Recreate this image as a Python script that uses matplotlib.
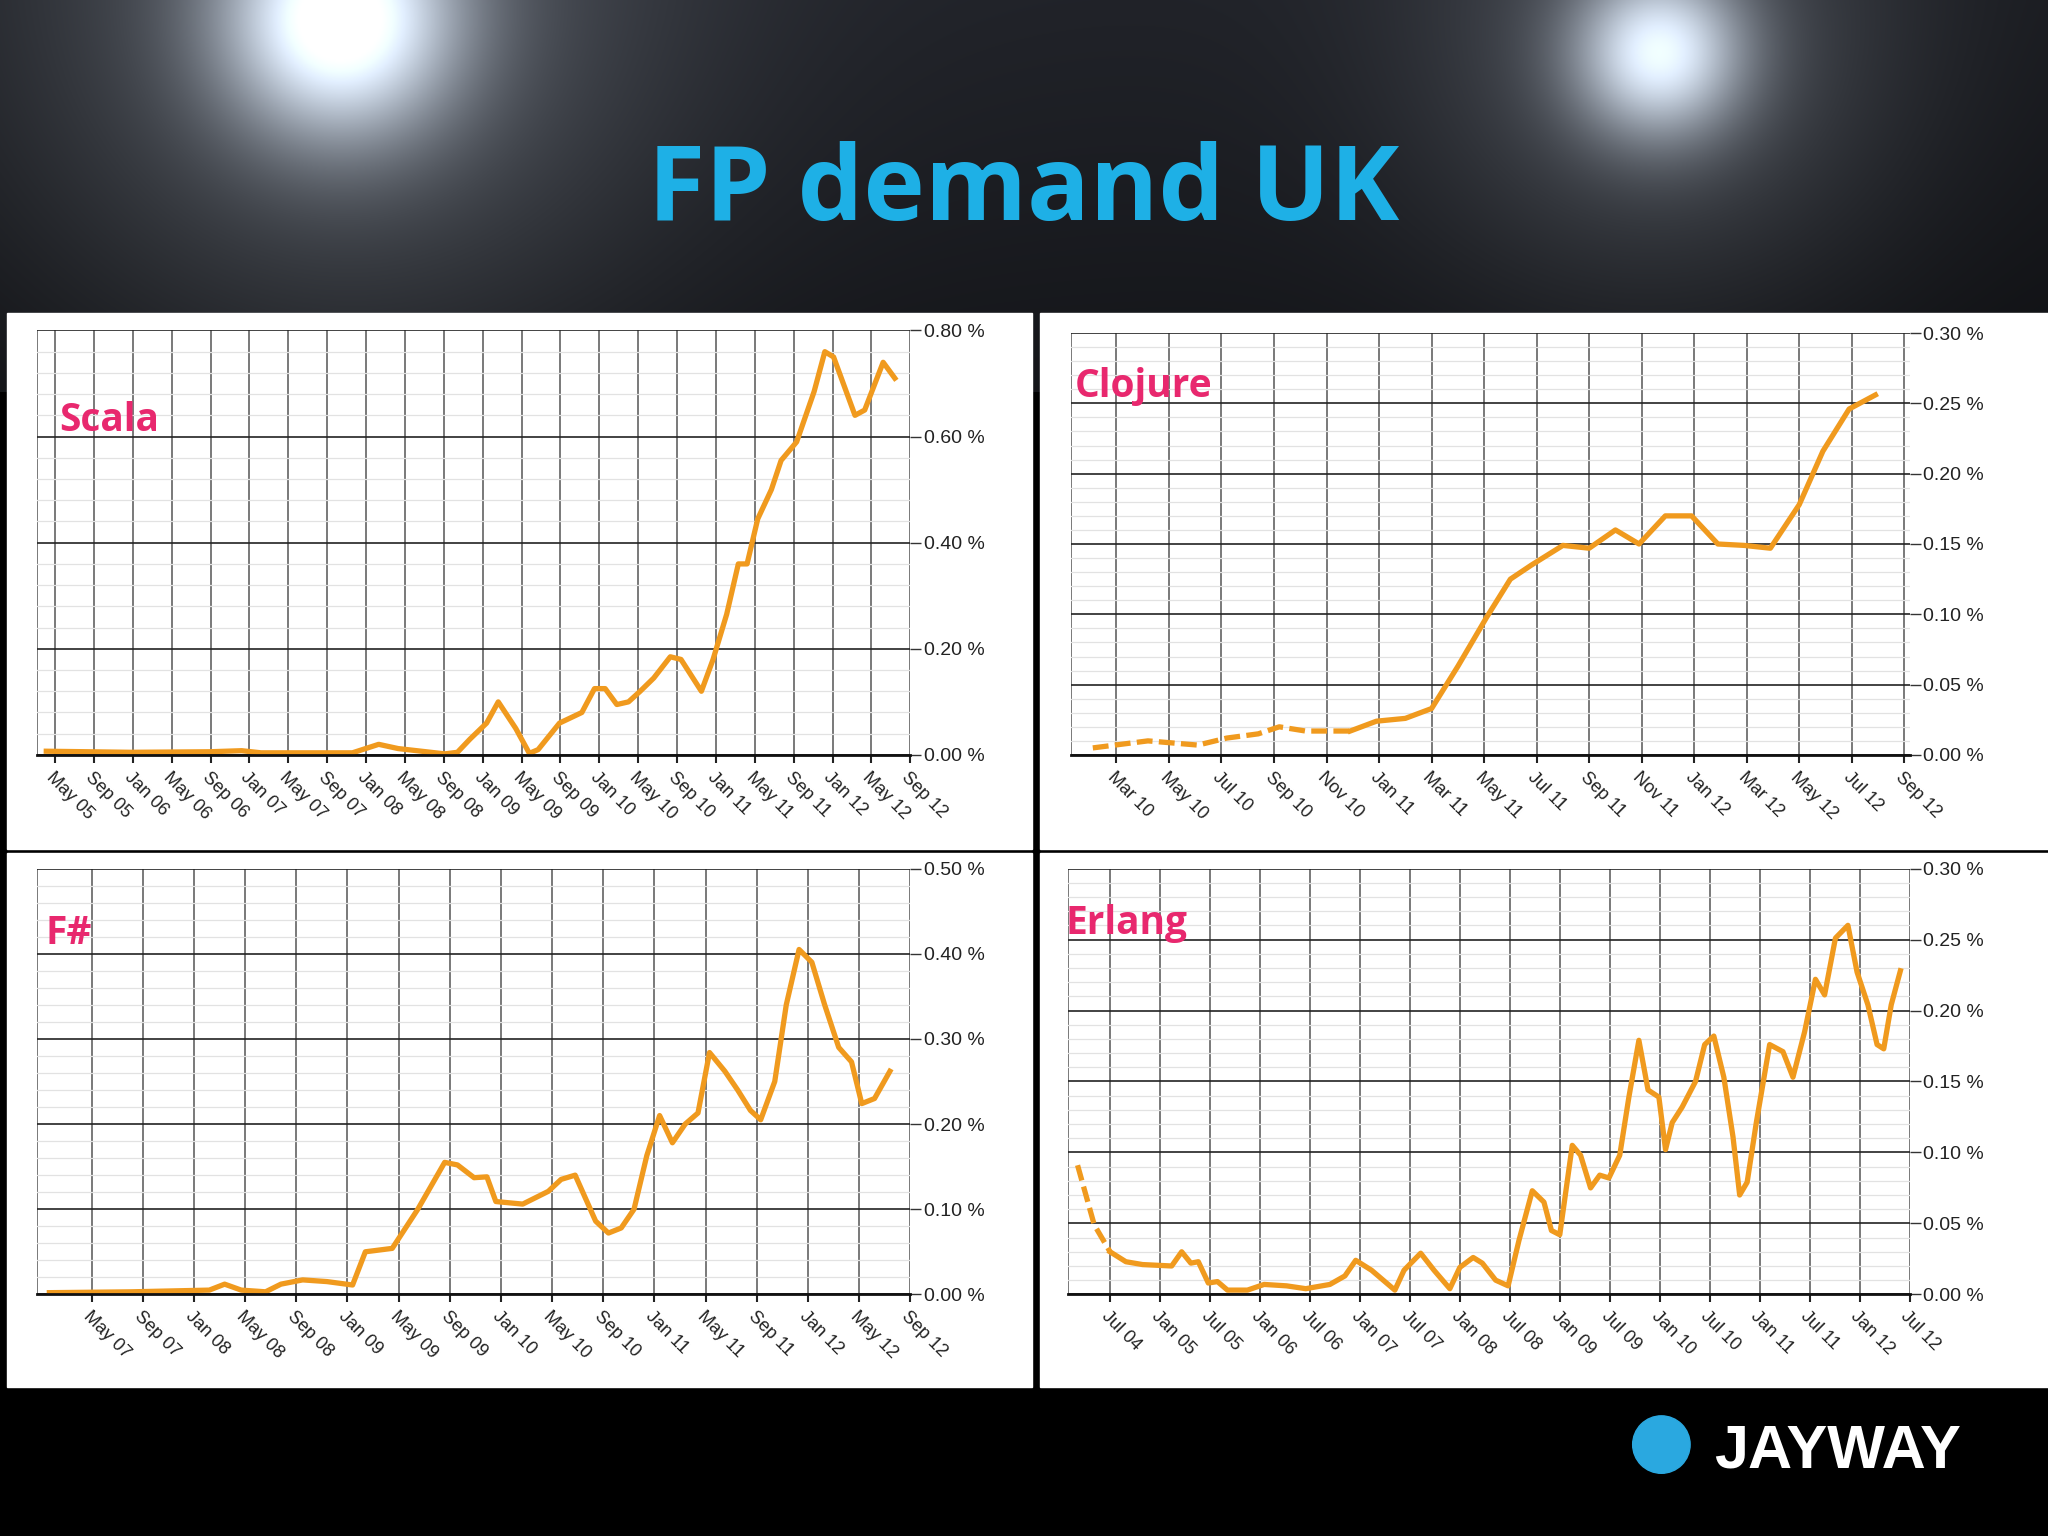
import numpy as np
import matplotlib
matplotlib.use("Agg")
import matplotlib.pyplot as plt
from matplotlib.ticker import MultipleLocator, FixedLocator, FuncFormatter
from matplotlib.patches import Rectangle, Ellipse

# ---------------- data (x in months) ----------------
# Scala: months since Jan 2005
scala_m = [3.1, 11.8, 19.9, 23.2, 25.2, 34.6, 37.3, 39.3, 44.1, 45.4, 46.7, 48.4, 49.6, 51.4, 52.8,
           53.7, 55.9, 58.2, 59.5, 60.6, 61.8, 63.0, 64.2, 65.6, 67.3, 68.4, 70.5, 71.7, 73.1, 74.3,
           75.2, 76.3, 77.7, 78.7, 80.3, 82.1, 83.2, 84.1, 86.3, 87.3, 89.2, 90.4]
scala_v = [0.007, 0.005, 0.006, 0.008, 0.004, 0.004, 0.02, 0.012, 0.002, 0.005, 0.03, 0.06, 0.10,
           0.05, 0.003, 0.01, 0.06, 0.08, 0.125, 0.125, 0.095, 0.10, 0.12, 0.145, 0.185, 0.18, 0.12,
           0.18, 0.265, 0.36, 0.36, 0.445, 0.50, 0.555, 0.59, 0.685, 0.76, 0.75, 0.64, 0.65, 0.74, 0.71]
scala_ticks = ["May 05", "Sep 05", "Jan 06", "May 06", "Sep 06", "Jan 07", "May 07", "Sep 07",
               "Jan 08", "May 08", "Sep 08", "Jan 09", "May 09", "Sep 09", "Jan 10", "May 10",
               "Sep 10", "Jan 11", "May 11", "Sep 11", "Jan 12", "May 12", "Sep 12"]

# Clojure: months since Jan 2010
clojure_m = [1.1, 3.2, 5.1, 6.2, 7.4, 8.2, 9.2, 10.9, 11.9, 13.0, 14.0, 15.0, 16.1, 17.0, 17.8,
             19.0, 20.0, 21.0, 21.9, 22.9, 23.9, 24.9, 25.9, 26.9, 28.0, 28.9, 29.9, 30.9]
clojure_v = [0.005, 0.01, 0.007, 0.012, 0.015, 0.02, 0.017, 0.017, 0.024, 0.026, 0.033, 0.063,
             0.098, 0.125, 0.135, 0.149, 0.147, 0.16, 0.15, 0.17, 0.17, 0.15, 0.149, 0.147,
             0.178, 0.216, 0.246, 0.256]
clojure_ticks = ["Mar 10", "May 10", "Jul 10", "Sep 10", "Nov 10", "Jan 11", "Mar 11", "May 11",
                 "Jul 11", "Sep 11", "Nov 11", "Jan 12", "Mar 12", "May 12", "Jul 12", "Sep 12"]

# F#: months since Jan 2005
fs_m = [24.7, 31.1, 37.2, 38.4, 39.7, 41.6, 42.8, 44.5, 46.4, 48.4, 49.4, 51.5, 53.5, 55.6, 56.6,
        57.9, 58.9, 59.6, 61.7, 63.7, 64.7, 65.8, 67.4, 68.4, 69.4, 70.4, 71.4, 72.4, 73.4, 74.4,
        75.4, 76.3, 77.5, 78.5, 79.5, 80.3, 81.4, 82.3, 83.3, 84.3, 85.3, 86.4, 87.4, 88.2, 89.2, 90.4]
fs_v = [0.002, 0.003, 0.005, 0.012, 0.005, 0.003, 0.012, 0.017, 0.015, 0.011, 0.05, 0.054, 0.10,
        0.155, 0.152, 0.137, 0.138, 0.109, 0.106, 0.121, 0.135, 0.14, 0.086, 0.072, 0.078, 0.10,
        0.163, 0.21, 0.178, 0.20, 0.213, 0.284, 0.262, 0.24, 0.216, 0.205, 0.25, 0.34, 0.405,
        0.39, 0.34, 0.29, 0.273, 0.224, 0.23, 0.262]
fs_ticks = ["May 07", "Sep 07", "Jan 08", "May 08", "Sep 08", "Jan 09", "May 09", "Sep 09",
            "Jan 10", "May 10", "Sep 10", "Jan 11", "May 11", "Sep 11", "Jan 12", "May 12", "Sep 12"]

# Erlang: months since Jan 2004
erl_m = [2.1, 4.1, 6.0, 7.9, 9.9, 13.4, 14.6, 15.7, 16.6, 17.8, 18.9, 20.1, 22.5, 24.5, 27.2, 29.5,
         32.4, 34.2, 35.5, 37.4, 40.2, 41.3, 43.3, 44.9, 46.8, 48.0, 49.6, 50.7, 52.3, 53.8, 55.1,
         56.7, 58.1, 59.0, 60.0, 61.5, 62.5, 63.7, 64.8, 65.9, 67.2, 68.3, 69.5, 70.6, 71.9, 72.7,
         73.5, 74.7, 76.3, 77.4, 78.5, 79.7, 80.8, 81.6, 82.5, 83.6, 85.2, 86.8, 88.0, 89.4, 90.7,
         91.8, 93.1, 94.6, 95.7, 97.0, 98.1, 98.9, 99.8, 100.9]
erl_v = [0.091, 0.049, 0.030, 0.023, 0.021, 0.02, 0.03, 0.022, 0.023, 0.008, 0.009, 0.003, 0.003,
         0.007, 0.006, 0.004, 0.007, 0.013, 0.024, 0.017, 0.003, 0.017, 0.029, 0.017, 0.004, 0.019,
         0.026, 0.022, 0.01, 0.006, 0.038, 0.073, 0.065, 0.045, 0.042, 0.105, 0.098, 0.075, 0.084,
         0.082, 0.098, 0.139, 0.179, 0.144, 0.139, 0.102, 0.121, 0.132, 0.150, 0.176, 0.182, 0.153,
         0.111, 0.07, 0.079, 0.121, 0.176, 0.171, 0.153, 0.185, 0.222, 0.211, 0.251, 0.26, 0.227,
         0.204, 0.176, 0.173, 0.204, 0.228]
erl_ticks = ["Jul 04", "Jan 05", "Jul 05", "Jan 06", "Jul 06", "Jan 07", "Jul 07", "Jan 08",
             "Jul 08", "Jan 09", "Jul 09", "Jan 10", "Jul 10", "Jan 11", "Jul 11", "Jan 12", "Jul 12"]

# ---------------- figure ----------------
W, H = 1568.0, 1176.0
fig = plt.figure(figsize=(20.48, 15.36), dpi=100)
fig.patch.set_facecolor("black")

# background glow
bg = fig.add_axes([0, 0, 1, 1]); bg.axis("off")
yy, xx = np.mgrid[0:300, 0:1568]
img = np.zeros((300, 1568, 3))
base = np.clip(0.16 - yy / 300 * 0.06, 0, 1)
tint = [0.80, 0.85, 1.0]
for c in range(3):
    img[..., c] = base * tint[c] * (0.7 + 0.3 * np.exp(-((xx - 760) / 700) ** 2))
for (cx, cy, r, s) in [(260, 15, 110, 1.0), (1270, 40, 80, 0.85)]:
    d = np.sqrt((xx - cx) ** 2 + (yy - cy) ** 2)
    g = s * (0.85 * np.exp(-(d / r) ** 2 * 1.6) + 0.25 * np.exp(-(d / (r * 2.2)) ** 2))
    for c in range(3):
        img[..., c] += g * (0.9 + 0.05 * c)
img = np.clip(img, 0, 1)
bg.imshow(img, extent=[0, 1, 1 - 300 / H, 1], aspect="auto", zorder=0)
bg.set_xlim(0, 1); bg.set_ylim(0, 1)

fig.text(784 / W, 1 - 148 / H, "FP demand UK", color="#1EB0E6", fontsize=75,
         fontweight="bold", family="Open Sans", ha="center", va="center")

# white panels
for (x0, y0, x1, y1) in [(5, 240, 790, 650), (796, 240, 1568, 650),
                         (5, 653, 790, 1062), (796, 653, 1568, 1062)]:
    fig.patches.append(Rectangle((x0 / W, 1 - y1 / H), (x1 - x0) / W, (y1 - y0) / H,
                                 transform=fig.transFigure, color="white", zorder=1))

fig.text(1312 / W, 1 - 1112 / H, "JAYWAY", color="white", fontsize=44, fontweight="bold",
         family=["Liberation Sans Narrow", "Liberation Sans"], ha="left", va="center")
fig.patches.append(Ellipse((1272 / W, 1 - 1106 / H), 44 / W, 44 / H,
                   transform=fig.transFigure, color="#2AA8E0", zorder=2))

ORANGE = "#F09A1E"
NARROW = ["Liberation Sans Narrow", "Liberation Sans"]


def panel(rect, mx, vals, ticks, tick0, tstep, xlim, ymax, ymajor, yminor, title, tpos,
          dash_idx=None):
    x0, y0, x1, y1 = rect
    ax = fig.add_axes([x0 / W, 1 - y1 / H, (x1 - x0) / W, (y1 - y0) / H], zorder=3)
    ax.set_facecolor("white")
    ax.set_xlim(*xlim)
    ax.set_ylim(0, ymax)
    tickpos = [tick0 + i * tstep for i in range(len(ticks))]
    ax.xaxis.set_major_locator(FixedLocator(tickpos))
    ax.set_xticklabels(ticks, rotation=-45, ha="left", va="top", rotation_mode="anchor",
                       fontsize=13, family=NARROW, color="#222222")
    ax.yaxis.tick_right()
    ax.yaxis.set_major_locator(MultipleLocator(ymajor))
    ax.yaxis.set_minor_locator(MultipleLocator(yminor))
    ax.yaxis.set_major_formatter(FuncFormatter(lambda v, p: f"{v:.2f} %"))
    for lab in ax.get_yticklabels():
        lab.set_family(NARROW); lab.set_fontsize(14); lab.set_color("#222222")
    ax.tick_params(axis="y", which="major", length=8, width=1, color="#333333", pad=2)
    ax.tick_params(axis="y", which="minor", length=0)
    ax.tick_params(axis="x", length=6, width=1.5, color="#222222", pad=4)
    ax.grid(axis="y", which="major", color="#222222", lw=1.2)
    ax.grid(axis="y", which="minor", color="#e2e2e2", lw=0.9)
    ax.grid(axis="x", which="major", color="#555555", lw=1.1)
    ax.set_axisbelow(True)
    for s in ["top", "left", "right"]:
        ax.spines[s].set_visible(False)
    ax.spines["bottom"].set_color("#111111"); ax.spines["bottom"].set_linewidth(2)
    ax.axvline(xlim[0], color="#555555", lw=1.1, zorder=0)
    if dash_idx:
        ax.plot(mx[:dash_idx + 1], vals[:dash_idx + 1], color=ORANGE, lw=3.8,
                ls=(0, (3, 1.2)))
        ax.plot(mx[dash_idx:], vals[dash_idx:], color=ORANGE, lw=3.8, solid_joinstyle="round")
    else:
        ax.plot(mx, vals, color=ORANGE, lw=3.8, solid_joinstyle="round")
    fig.text(tpos[0] / W, 1 - tpos[1] / H, title, color="#E8286E", fontsize=28,
             fontweight="bold", family="Open Sans", ha="left", va="center", zorder=5)
    return ax


panel((28, 253, 697, 578), scala_m, scala_v, scala_ticks, 4, 4, (2.1, 92.0), 0.8, 0.2, 0.04,
      "Scala", (45, 322))
panel((820, 255, 1462, 578), clojure_m, clojure_v, clojure_ticks, 2, 2, (0.27, 32.2), 0.3, 0.05,
      0.01, "Clojure", (823, 296), dash_idx=7)
panel((28, 665, 697, 991), fs_m, fs_v, fs_ticks, 28, 4, (23.7, 92.0), 0.5, 0.1, 0.02,
      "F#", (35, 715))
panel((818, 665, 1462, 991), erl_m, erl_v, erl_ticks, 6, 6, (1.0, 102.0), 0.3, 0.05, 0.01,
      "Erlang", (816, 707), dash_idx=2)

fig.savefig("out.png", dpi=100, facecolor="black")
